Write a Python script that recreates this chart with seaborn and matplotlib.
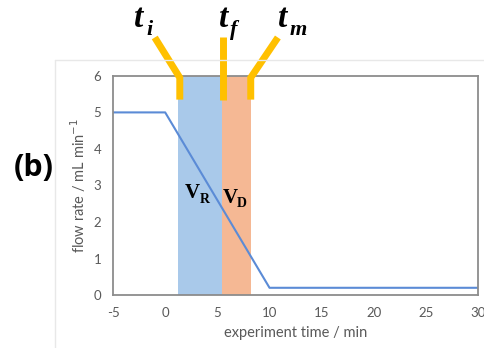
import matplotlib
matplotlib.use("Agg")
import matplotlib.pyplot as plt
from matplotlib.lines import Line2D
import seaborn as sns
import pandas as pd

# Flow-rate programme
time_min = [-5, 0, 10, 30]
flow_rate = [5.0, 5.0, 0.2, 0.2]

# Characteristic times
t_i, t_f, t_m = 1.2, 5.4, 8.2
x_ticks = [-5, 0, 5, 10, 15, 20, 25, 30]
y_ticks = [0, 1, 2, 3, 4, 5, 6]

sns.set_theme(style="white")
plt.rcParams["font.family"] = ["Lato", "DejaVu Sans"]

W, H = 485, 348
fig = plt.figure(figsize=(W / 100, H / 100), dpi=100)
ax = fig.add_axes([0.233, 0.152, 0.753, 0.630])

grey = "#8c8c8c"
tick_col = "#595959"

# faint chart-area border (left and top edges)
fig.add_artist(Line2D([55 / W, 55 / W], [0, 1 - 60 / H], color="#e8e8e8", lw=1,
                      transform=fig.transFigure))
fig.add_artist(Line2D([55 / W, 1], [1 - 60 / H, 1 - 60 / H], color="#e8e8e8", lw=1,
                      transform=fig.transFigure))

# shaded volume regions
ax.axvspan(t_i, t_f, ymin=0, ymax=1, color="#a9c9ea", lw=0, zorder=1)
ax.axvspan(t_f, t_m, ymin=0, ymax=1, color="#f5b894", lw=0, zorder=1)

df = pd.DataFrame({"time": time_min, "flow": flow_rate})
sns.lineplot(data=df, x="time", y="flow", ax=ax, color="#5b8bd6", lw=1.5,
             zorder=3, sort=False)

ax.set_xlim(-5, 30)
ax.set_ylim(0, 6)
ax.set_xticks(x_ticks)
ax.set_yticks(y_ticks)
ax.set_xticklabels([str(v) for v in x_ticks], color=tick_col, fontsize=9.5)
ax.set_yticklabels([str(v) for v in y_ticks], color=tick_col, fontsize=9.5)
ax.tick_params(axis="both", direction="inout", length=5, width=1, color=grey, pad=6)
ax.tick_params(axis="x", pad=6)
for s in ax.spines.values():
    s.set_color(grey)
    s.set_linewidth(1.3)
    s.set_zorder(4)

ax.set_xlabel("experiment time / min", color=tick_col, fontsize=10.5, labelpad=5)
ax.set_ylabel("flow rate / mL min$^{-1}$", color=tick_col, fontsize=10.5, labelpad=4)

# marker lines for the characteristic times
gold = "#ffc000"
kw = dict(color=gold, lw=5, solid_capstyle="butt", solid_joinstyle="miter",
          clip_on=False, zorder=5)
ax.plot([1.4, 1.4, -1.0], [5.35, 5.95, 7.05], **kw)
ax.plot([t_f + 0.1, t_f + 0.1], [5.35, 7.05], **kw)
ax.plot([t_m, t_m, 10.8], [5.35, 5.95, 7.05], **kw)

serif = ["Liberation Serif", "DejaVu Serif"]
def label(x, y, main, sub, size=24, subsize=16, dx=0.025, dy=-0.022):
    fig.text(x, y, main, fontsize=size, fontweight="bold", fontstyle="italic",
             family=serif, ha="left", va="baseline", color="black")
    fig.text(x + dx, y + dy, sub, fontsize=subsize, fontweight="bold",
             fontstyle="italic", family=serif, ha="left", va="baseline", color="black")

label(0.276, 0.922, "t", "i")
label(0.452, 0.922, "t", "f", dx=0.022)
label(0.573, 0.922, "t", "m")

def vol(x, y, sub):
    fig.text(x, y, "V", fontsize=15, fontweight="bold", family=serif,
             ha="left", va="baseline", color="black")
    fig.text(x + 0.030, y - 0.012, sub, fontsize=10, fontweight="bold",
             family=serif, ha="left", va="baseline", color="black")

vol(0.381, 0.430, "R")
vol(0.459, 0.418, "D")

fig.text(0.070, 0.517, "(b)", fontsize=22, fontweight="bold", color="black",
         family=["Open Sans", "DejaVu Sans"], ha="center", va="center")

fig.savefig("out.png", dpi=100)
